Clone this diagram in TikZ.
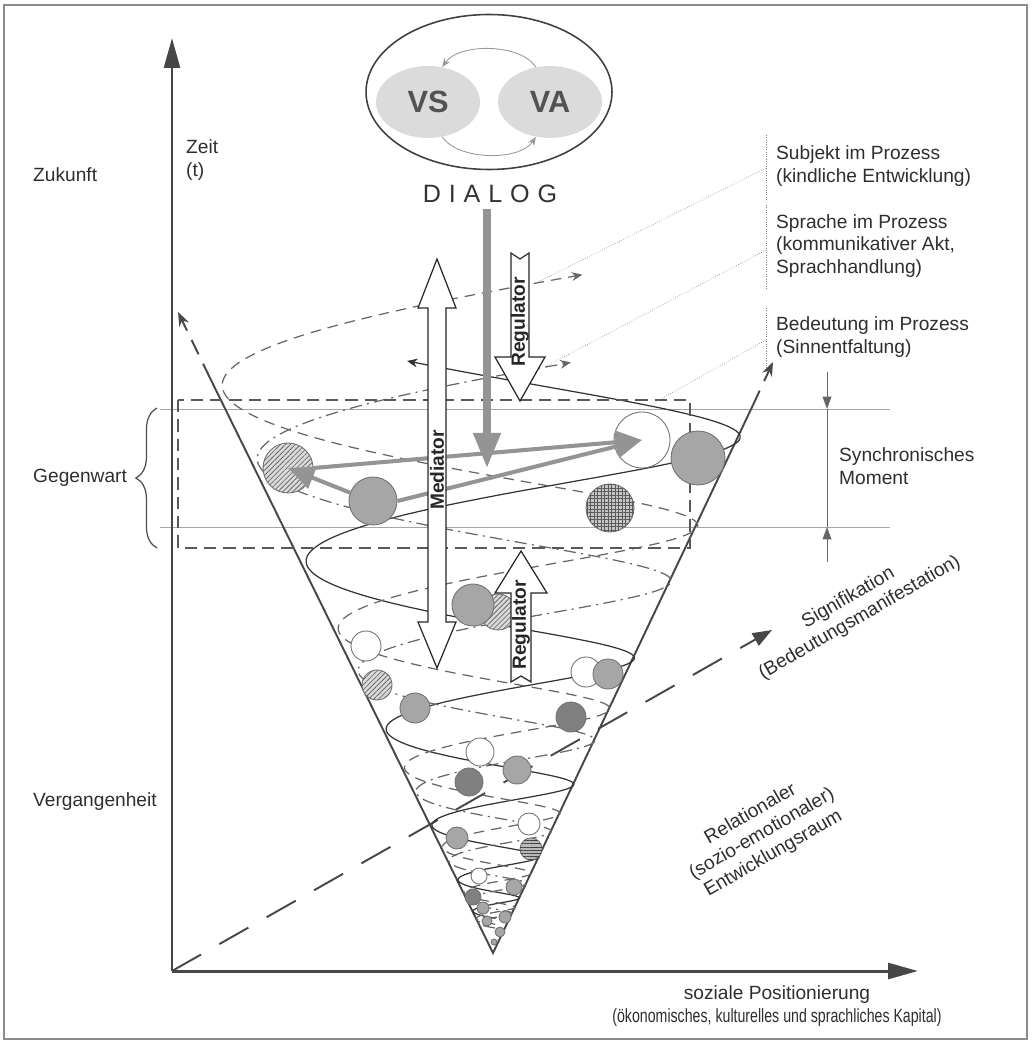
\documentclass[tikz,border=0pt]{standalone}
\usepackage{fontspec}
\setmainfont{Liberation Sans}
\usetikzlibrary{arrows.meta,shapes.geometric,decorations.pathreplacing,patterns.meta}
\definecolor{axisgray}{gray}{0.28}
\definecolor{ballgray}{gray}{0.65}
\definecolor{balldark}{gray}{0.50}
\definecolor{flowgray}{gray}{0.58}
\definecolor{textgray}{gray}{0.18}

\begin{document}
\begin{tikzpicture}[x=0.02cm,y=-0.02cm,
    declare function={
      hr(\x,\y)=0.48*\y*exp(0.089*\x);
      hx(\x,\y)=493+hr(\x,\y)*cos(deg(\x));
      hy(\x,\y)=953-\y*exp(0.089*\x)+0.05*hr(\x,\y)*sin(deg(\x));
    },
    lbl/.style={font=\fontsize{10.9}{13}\selectfont, text=textgray},
    boldlbl/.style={font=\fontsize{10.9}{13}\selectfont\bfseries, text=black!85},
    axis/.style={line width=1.7pt, draw=axisgray, -{Triangle[length=17pt,width=9pt]}},
    sigaxis/.style={line width=1.1pt, draw=axisgray, dash pattern=on 19pt off 12pt, -{Triangle[length=11pt,width=8pt]}},
    cone/.style={line width=1.1pt, draw=axisgray},
    conetip/.style={line width=1.1pt, draw=axisgray, dash pattern=on 9pt off 6pt, -{Stealth[length=8pt,width=6pt]}},
    helixsolid/.style={line width=0.7pt, draw=black!80},
    helixdash/.style={line width=0.7pt, draw=black!60, dash pattern=on 6pt off 4pt},
    helixdot/.style={line width=0.7pt, draw=black!60, dash pattern=on 7pt off 3pt on 1.2pt off 3pt},
    tipsmall/.style={-{Stealth[length=6pt,width=5pt]}},
    box/.style={draw=black!65, line width=0.9pt, dash pattern=on 7pt off 4pt},
    guide/.style={draw=black!35, line width=0.4pt},
    leader/.style={draw=black!50, line width=0.35pt, densely dotted},
    measure/.style={draw=black!60, line width=0.5pt, -{Triangle[length=7pt,width=5pt]}},
    ball/.style={circle, draw=black!55, line width=0.5pt, inner sep=0pt, minimum size=#1},
    grayball/.style={ball=#1, fill=ballgray},
    darkball/.style={ball=#1, fill=balldark},
    whiteball/.style={ball=#1, fill=white},
    lineball/.style={ball=#1, fill=gray!30, postaction={pattern color=black!65, pattern={Lines[angle=45,distance=2pt,line width=0.35pt]}}},
    hlineball/.style={ball=#1, fill=gray!55, postaction={pattern color=black!75, pattern={Lines[angle=0,distance=1.8pt,line width=0.35pt]}}},
    gridball/.style={ball=#1, fill=gray!45, postaction={pattern color=black!65, pattern={Hatch[angle=0,distance=2pt,line width=0.3pt]}}},
    flow/.style={line width=2.3pt, draw=flowgray, -{Triangle[length=15pt,width=13pt]}},
    dialogarrow/.style={line width=4pt, draw=flowgray, -{Triangle[length=20pt,width=15pt]}},
    hollow/.style={draw=black!85, line width=0.7pt, fill=white},
    turn/.style={draw=black!40, line width=0.5pt, -{Stealth[length=5pt,width=4pt]}}
  ]
  \useasboundingbox (0,0) rectangle (1032,1043);
  \draw[black!45, line width=0.6pt] (4,5) rectangle (1027,1039);

  % --- guide lines of the present ---
  \draw[guide] (160,409) -- (890,409);
  \draw[guide] (160,527) -- (890,527);

  % --- axes ---
  \coordinate (origin) at (172,971);
  \coordinate (ytip) at (172,38);
  \coordinate (xtip) at (918,971);
  \coordinate (stip) at (772,630);
  \draw[axis] (origin) -- (ytip);
  \draw[axis] (origin) -- (xtip);
  \draw[sigaxis] (origin) -- (stip);

  % --- cone ---
  \coordinate (apex) at (493,953);
  \coordinate (ltop) at (210,378);
  \coordinate (lend) at (178,312);
  \coordinate (rtop) at (753,405);
  \coordinate (rend) at (773,362);
  \draw[cone] (ltop) -- (apex) -- (rtop);
  \draw[conetip] (ltop) -- (lend);
  \draw[conetip] (rtop) -- (rend);

  % --- helices ---
  \draw[helixsolid, tipsmall] plot[domain=-30:1.88, samples=600] ({hx(\x,513)},{hy(\x,513)});
  \draw[helixdash, tipsmall] plot[domain=-30:5.0, samples=600] ({hx(\x,425)},{hy(\x,425)});
  \draw[helixdot, tipsmall] plot[domain=-30:5.0, samples=600] ({hx(\x,370)},{hy(\x,370)});

  % --- synchronic box ---
  \draw[box] (178,400) rectangle (690,548);

  % --- spheres ---
  \node[lineball=1cm] (c1) at (288,468) {};
  \node[grayball=0.96cm] (c2) at (373,501) {};
  \node[whiteball=1.12cm] (c3) at (642,440) {};
  \node[grayball=1.08cm] (c4) at (698,458) {};
  \node[gridball=0.96cm] (c5) at (610,508) {};
  \node[lineball=0.72cm] (c7) at (498,612) {};
  \node[grayball=0.84cm] (c6) at (473,605) {};
  \node[whiteball=0.6cm] (c8) at (366,646) {};
  \node[lineball=0.6cm] (c9) at (377,685) {};
  \node[grayball=0.6cm] (c10) at (415,708) {};
  \node[whiteball=0.6cm] (c11) at (586,672) {};
  \node[grayball=0.6cm] (c12) at (608,674) {};
  \node[darkball=0.6cm] (c13) at (571,717) {};
  \node[whiteball=0.56cm] (c14) at (480,752) {};
  \node[grayball=0.56cm] (c15) at (517,770) {};
  \node[darkball=0.56cm] (c16) at (469,782) {};
  \node[whiteball=0.44cm] (c17) at (529,824) {};
  \node[grayball=0.44cm] (c18) at (457,838) {};
  \node[hlineball=0.44cm] (c19) at (531,849) {};
  \node[whiteball=0.32cm] (c20) at (479,876) {};
  \node[grayball=0.32cm] (c21) at (514,887) {};
  \node[darkball=0.32cm] (c22) at (473,897) {};
  \node[grayball=0.24cm] (c23) at (483,908) {};
  \node[grayball=0.24cm] (c24) at (505,917) {};
  \node[grayball=0.2cm] (c25) at (487,921) {};
  \node[grayball=0.2cm] (c26) at (500,932) {};
  \node[grayball=0.12cm] (c27) at (494,942) {};

  % --- movements in the present ---
  \draw[flow] (c2.160) -- (c1.center);
  \draw[flow] (c1.east) -- (c3.center);
  \draw[flow] (c2.east) -- (c3.center);

  % --- dialog ---
  \node[ellipse, draw=black!75, line width=0.9pt, minimum width=4.92cm, minimum height=3.1cm] (ring) at (489,92) {};
  \node[ellipse, fill=gray!28, minimum width=2.08cm, minimum height=1.44cm, inner sep=0pt,
        font=\fontsize{17.5}{20}\selectfont\bfseries, text=black!68] (vs) at (428,102) {VS};
  \node[ellipse, fill=gray!28, minimum width=2.08cm, minimum height=1.44cm, inner sep=0pt,
        font=\fontsize{17.5}{20}\selectfont\bfseries, text=black!68] (va) at (550,102) {VA};
  \draw[turn] (va.112) .. controls +(-16,-24) and +(17,-24) .. (vs.68);
  \draw[turn] (vs.-68) .. controls +(17,24) and +(-16,24) .. (va.-112);
  \node[font=\fontsize{14.3}{16}\selectfont, text=black!80] (dialog) at (490,194)
    {D\kern4.5pt I\kern4.5pt A\kern4.5pt L\kern4.5pt O\kern4.5pt G};
  \coordinate (dtip) at (487,468);
  \draw[dialogarrow] (dialog.south -| dtip) -- (dtip);

  % --- mediator and regulators ---
  \draw[hollow] (437,259) -- (456,308) -- (446,308) -- (446,622) -- (456,622) -- (437,668)
    -- (418,622) -- (428,622) -- (428,308) -- (418,308) -- cycle;
  \node[boldlbl, rotate=90] (mediator) at (437,470) {Mediator};
  \draw[hollow] (511,253) -- (520,259) -- (529,253) -- (529,357) -- (545,357) -- (520,401)
    -- (495,357) -- (511,357) -- cycle;
  \node[boldlbl, rotate=90] (regdown) at (520,322) {Regulator};
  \draw[hollow] (521,551) -- (547,593) -- (531,593) -- (531,682) -- (521,676) -- (511,682)
    -- (511,593) -- (495,593) -- cycle;
  \node[boldlbl, rotate=90] (regup) at (521,625) {Regulator};

  % --- process labels ---
  \node[lbl, anchor=west, align=left] (subj) at (770,166) {Subjekt im Prozess\\(kindliche Entwicklung)};
  \node[lbl, anchor=west, align=left] (sprache) at (770,246) {Sprache im Prozess\\(kommunikativer Akt,\\Sprachhandlung)};
  \node[lbl, anchor=west, align=left] (bedeut) at (770,337) {Bedeutung im Prozess\\(Sinnentfaltung)};
  \draw[leader] (766,135) -- (766,200);
  \draw[leader] (766,205) -- (766,290);
  \draw[leader] (766,308) -- (766,368);
  \coordinate (subjfoot) at ({hx(4.85,425)},{hy(4.85,425)});
  \coordinate (sprfoot) at ({hx(4.9,370)},{hy(4.9,370)});
  \coordinate (bedfoot) at ({hx(0.95,513)},{hy(0.95,513)});
  \draw[leader] (766,168) -- (subjfoot);
  \draw[leader] (766,250) -- (sprfoot);
  \draw[leader] (766,340) -- (bedfoot);

  % --- synchronic moment ---
  \coordinate (mtop) at (827,409);
  \coordinate (mbot) at (827,527);
  \coordinate (mabove) at (827,372);
  \coordinate (mbelow) at (827,562);
  \draw[measure] (mabove) -- (mtop);
  \draw[draw=black!60, line width=0.5pt] (mtop) -- (mbot);
  \draw[measure] (mbelow) -- (mbot);
  \node[lbl, anchor=west, align=left] (synch) at (833,466) {Synchronisches\\Moment};

  % --- time labels ---
  \node[lbl, anchor=west, align=left] (zeit) at (180,160) {Zeit\\(t)};
  \node[lbl, anchor=west] (zukunft) at (27,175) {Zukunft};
  \node[lbl, anchor=west] (gegenwart) at (27,478) {Gegenwart};
  \node[lbl, anchor=west] (vergangen) at (27,802) {Vergangenheit};
  \draw[black!70, line width=0.7pt, decorate, decoration={brace, amplitude=12pt}] (157,548) -- (157,408);

  % --- other axes ---
  \node[lbl, align=center] (xlabel) at (777,1006) {soziale Positionierung\\\scalebox{0.74}[1]{(ökonomisches, kulturelles und sprachliches Kapital)}};
  \node[lbl, align=center, rotate=30] (signif) at (854,608) {Signifikation\\(Bedeutungsmanifestation)};
  \node[lbl, align=center, rotate=30] (relational) at (762,834) {Relationaler\\(sozio-emotionaler)\\Entwicklungsraum};
\end{tikzpicture}
\end{document}
